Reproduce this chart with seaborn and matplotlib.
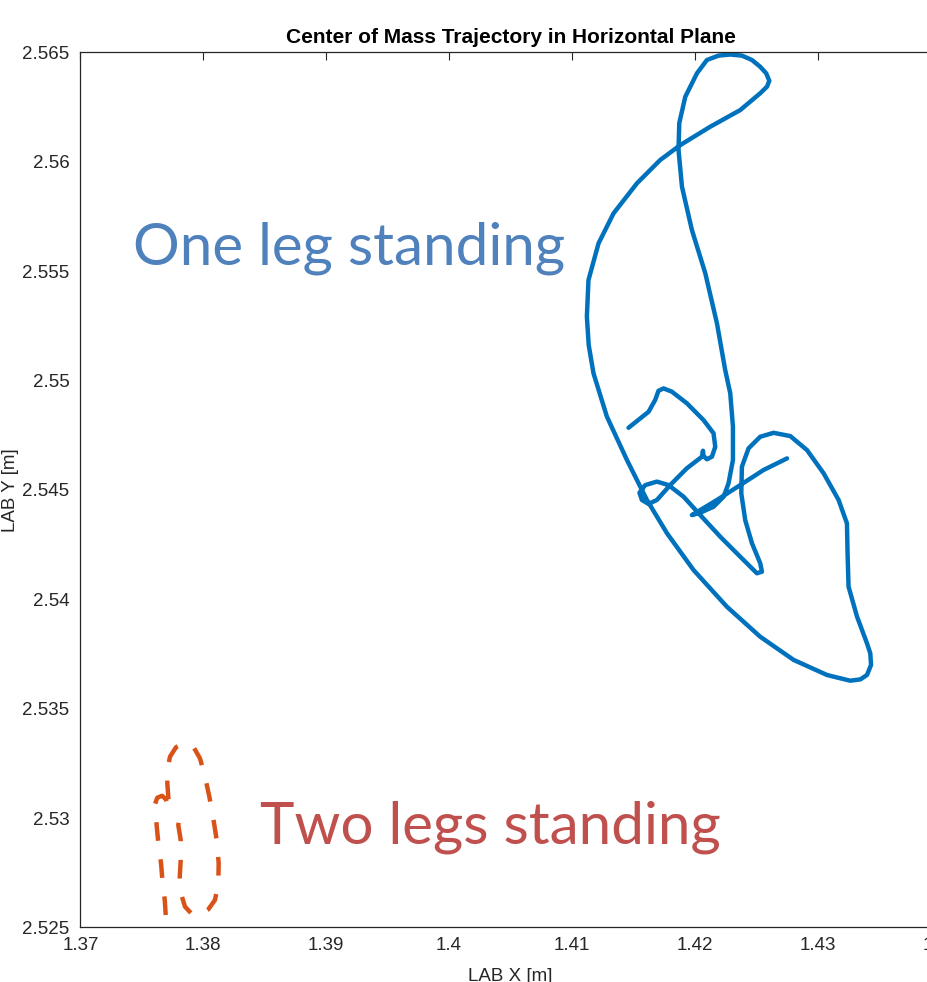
"""
Center of mass trajectory in the horizontal plane:
one leg standing vs two legs standing
"""

import matplotlib
matplotlib.use('Agg')
import matplotlib.pyplot as plt
import seaborn as sns

# one leg standing (LAB X, LAB Y in m)
one_leg_x = [1.41461, 1.41624, 1.41678, 1.41705, 1.41746, 1.41814, 1.41936, 1.42072,
             1.42153, 1.42167, 1.42140, 1.42099, 1.42072, 1.42067, 1.42059, 1.41936,
             1.41800, 1.41692, 1.41624, 1.41570, 1.41550, 1.41597, 1.41692, 1.41787,
             1.41909, 1.42045, 1.42208, 1.42370, 1.42506, 1.42547, 1.42533, 1.42466,
             1.42411, 1.42379, 1.42384, 1.42438, 1.42533, 1.42642, 1.42778, 1.42914,
             1.43049, 1.43171, 1.43239, 1.43244, 1.43252, 1.43321, 1.43402, 1.43429,
             1.43435, 1.43402, 1.43348, 1.43266, 1.43185, 1.43077, 1.42805, 1.42533,
             1.42262, 1.41990, 1.41774, 1.41611, 1.41448, 1.41285, 1.41176, 1.41137,
             1.41122, 1.41135, 1.41217, 1.41339, 1.41529, 1.41719, 1.41882, 1.42126,
             1.42370, 1.42533, 1.42588, 1.42607, 1.42582, 1.42533, 1.42466, 1.42384,
             1.42289, 1.42194, 1.42099, 1.42018, 1.41923, 1.41874, 1.41868, 1.41896,
             1.41977, 1.42086, 1.42181, 1.42248, 1.42289, 1.42311, 1.42311, 1.42275,
             1.42235, 1.42153, 1.42045, 1.41977, 1.42181, 1.42370, 1.42560, 1.42751]
one_leg_y = [2.54784, 2.54857, 2.54911, 2.54953, 2.54964, 2.54949, 2.54896, 2.54819,
             2.54759, 2.54697, 2.54652, 2.54640, 2.54655, 2.54679, 2.54652, 2.54599,
             2.54522, 2.54454, 2.54436, 2.54454, 2.54487, 2.54522, 2.54538, 2.54522,
             2.54469, 2.54385, 2.54286, 2.54195, 2.54119, 2.54126, 2.54165, 2.54256,
             2.54362, 2.54484, 2.54606, 2.54690, 2.54743, 2.54761, 2.54746, 2.54682,
             2.54576, 2.54454, 2.54347, 2.54210, 2.54058, 2.53921, 2.53799, 2.53753,
             2.53700, 2.53654, 2.53634, 2.53628, 2.53639, 2.53654, 2.53723, 2.53829,
             2.53966, 2.54134, 2.54302, 2.54454, 2.54637, 2.54835, 2.55033, 2.55162,
             2.55292, 2.55459, 2.55627, 2.55764, 2.55901, 2.56008, 2.56076, 2.56160,
             2.56236, 2.56313, 2.56343, 2.56370, 2.56404, 2.56434, 2.56465, 2.56485,
             2.56490, 2.56485, 2.56465, 2.56404, 2.56297, 2.56176, 2.56054, 2.55886,
             2.55688, 2.55490, 2.55261, 2.55048, 2.54942, 2.54789, 2.54637, 2.54530,
             2.54469, 2.54423, 2.54396, 2.54385, 2.54454, 2.54522, 2.54591, 2.54644]

# two legs standing
two_legs_x = [1.37694, 1.37686, 1.37669, 1.37656, 1.37634, 1.37621, 1.37612, 1.37607,
              1.37625, 1.37664, 1.37696, 1.37715, 1.37721, 1.37715, 1.37707, 1.37707,
              1.37729, 1.37778, 1.37851, 1.37919, 1.37973, 1.38014, 1.38049, 1.38081,
              1.38109, 1.38125, 1.38122, 1.38095, 1.38041, 1.37973, 1.37906, 1.37851,
              1.37818, 1.37808, 1.37816, 1.37816, 1.37796, 1.37810, 1.37843, 1.37857]
two_legs_y = [2.52557, 2.52626, 2.52702, 2.52793, 2.52885, 2.52961, 2.53022, 2.53064,
              2.53093, 2.53102, 2.53086, 2.53055, 2.53040, 2.53098, 2.53159, 2.53220,
              2.53281, 2.53324, 2.53342, 2.53326, 2.53273, 2.53189, 2.53098, 2.52999,
              2.52900, 2.52793, 2.52702, 2.52626, 2.52583, 2.52557, 2.52562, 2.52595,
              2.52656, 2.52732, 2.52808, 2.52900, 2.52968, 2.53006, 2.53029, 2.53040]

x_ticks = [1.37, 1.38, 1.39, 1.40, 1.41, 1.42, 1.43, 1.44]
x_tick_labels = ['1.37', '1.38', '1.39', '1.4', '1.41', '1.42', '1.43', '1.44']
y_ticks = [2.525, 2.53, 2.535, 2.54, 2.545, 2.55, 2.555, 2.56, 2.565]
y_tick_labels = ['2.525', '2.53', '2.535', '2.54', '2.545', '2.55', '2.555', '2.56', '2.565']

sns.set_style('white', {'xtick.direction': 'in', 'ytick.direction': 'in'})
plt.rcParams['font.family'] = ['Liberation Sans', 'DejaVu Sans']

fig = plt.figure(figsize=(9.27, 9.82), dpi=100)
# the original screenshot cuts the right side of the axes off
ax = fig.add_axes([0.0868, 0.0555, 0.9277, 0.8912])

sns.lineplot(x=one_leg_x, y=one_leg_y, sort=False, estimator=None, ax=ax,
             color='#0072BD', linewidth=3.2, solid_joinstyle='round')
sns.lineplot(x=two_legs_x, y=two_legs_y, sort=False, estimator=None, ax=ax,
             color='#D95319', linewidth=3.2, linestyle=(0, (4.2, 4.2)))

ax.set_xlim(1.37, 1.44)
ax.set_ylim(2.525, 2.565)
ax.set_xticks(x_ticks)
ax.set_xticklabels(x_tick_labels)
ax.set_yticks(y_ticks)
ax.set_yticklabels(y_tick_labels)

ax.tick_params(axis='both', which='both', direction='in', length=6, width=0.8,
               colors='#262626', labelsize=13.5, top=True, right=True)
ax.tick_params(axis='x', pad=7)
ax.tick_params(axis='y', pad=8)
for s in ax.spines.values():
    s.set_color('#262626')
    s.set_linewidth(0.9)

ax.set_title('Center of Mass Trajectory in Horizontal Plane', fontweight='bold',
             fontsize=15, color='black', pad=7)
ax.set_xlabel('LAB X [m]', fontsize=13.5, color='#262626', labelpad=10)
ax.set_ylabel('LAB Y [m]', fontsize=13.5, color='#262626', labelpad=2)

ax.text(1.37428, 2.55606, 'One leg standing', family=['Lato', 'DejaVu Sans'],
        fontsize=42, color='#4F81BD', va='center', ha='left')
ax.text(1.38462, 2.52959, 'Two legs standing', family=['Lato', 'DejaVu Sans'],
        fontsize=42, color='#C0504D', va='center', ha='left')

plt.savefig('out.png', dpi=100)
